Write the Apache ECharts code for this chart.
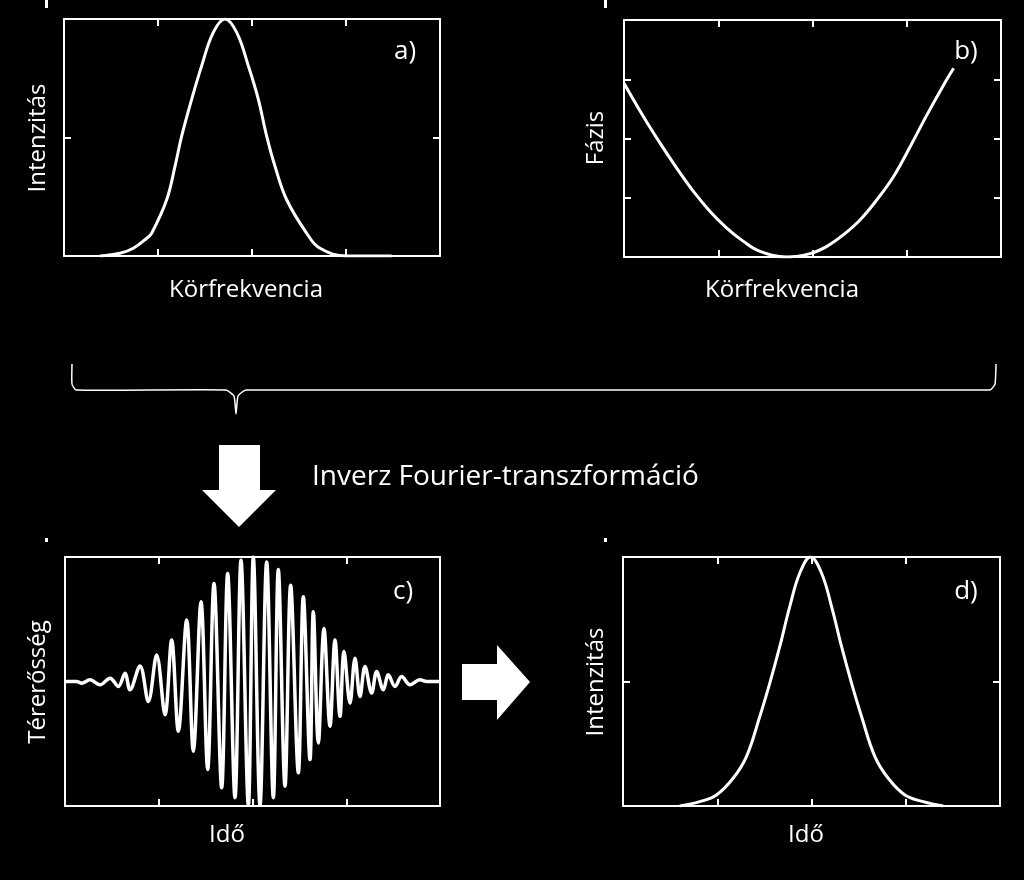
<!DOCTYPE html>
<html><head><meta charset="utf-8">
<script src="https://cdn.jsdelivr.net/npm/echarts@6/dist/echarts.min.js"></script>
<style>html,body{margin:0;background:#000}#c{width:1024px;height:880px}</style>
</head><body><div id="c"></div>
<script>
// a) spectral intensity vs angular frequency
const intensityA = [[108,0],[168,8],[208,23],[248,53],[263,68],[308,168],[333,268],[353,358],[383,468],[413,568],[448,668],[483,708],[518,668],[553,568],[583,468],[608,358],[633,268],[668,168],[728,68],[768,23],[848,0],[983,0]];
// b) spectral phase vs angular frequency
const phaseB = [[0,522],[58,422],[108,342],[158,267],[208,197],[258,137],[308,87],[358,47],[408,17],[488,0],[558,10],[608,32],[658,67],[708,112],[758,172],[808,242],[858,332],[908,427],[958,517],[988,567]];
// c) electric field vs time
const fieldC = [[0,0],[35,0],[50,-5],[75,5],[105,-10],[135,10],[160,-15],[180,25],[195,-25],[225,47],[250,-60],[275,80],[300,-100],[320,125],[340,-150],[365,185],[385,-210],[408,240],[428,-265],[447,295],[470,-320],[488,325],[510,-350],[528,365],[550,-373],[565,375],[585,-373],[605,360],[625,-350],[640,337],[660,-315],[677,290],[700,-275],[715,255],[735,-235],[745,210],[760,-185],[777,160],[795,-135],[810,125],[825,-105],[837,90],[855,-65],[870,70],[885,-45],[900,45],[920,-35],[935,30],[955,-25],[970,20],[990,-15],[1010,15],[1035,-10],[1065,5],[1085,0],[1125,0]];
// d) temporal intensity vs time
const intensityD = [[170,0],[230,13],[280,33],[330,83],[370,148],[410,268],[440,368],[470,478],[500,598],[530,698],[562,746],[595,698],[625,598],[655,478],[685,368],[715,268],[755,148],[795,83],[845,33],[900,13],[960,0]];

const panelLabels = ['a)','b)','c)','d)'];
const xNames = ['Körfrekvencia','Körfrekvencia','Idő','Idő'];
const yNames = ['Intenzitás','Fázis','Térerősség','Intenzitás'];

const grids = [
  {left:64,top:19,width:376,height:237},
  {left:624,top:20,width:377,height:237},
  {left:65,top:557,width:375,height:249},
  {left:623,top:557,width:377,height:249}
];
const xr = [[0,1128,282],[0,1130,282.5],[0,1125,281.25],[0,1130,282.5]];
const yr = [[0,708,354],[0,712,178],[-375,375,375],[0,746,373]];
const series = [intensityA, phaseB, fieldC, intensityD];

const W='#fff';
const xAxis=[], yAxis=[], ser=[];
grids.forEach((g,i)=>{
  ['bottom','top'].forEach(p=>xAxis.push({type:'value',gridIndex:i,position:p,min:xr[i][0],max:xr[i][1],interval:xr[i][2],
    axisLine:{show:true,lineStyle:{color:W,width:2}},axisTick:{show:true,inside:true,length:7,lineStyle:{color:W,width:2}},
    axisLabel:{show:false},splitLine:{show:false}}));
  ['left','right'].forEach(p=>yAxis.push({type:'value',gridIndex:i,position:p,min:yr[i][0],max:yr[i][1],interval:yr[i][2],
    axisLine:{show:true,onZero:false,lineStyle:{color:W,width:2}},axisTick:{show:true,inside:true,length:7,lineStyle:{color:W,width:2}},
    axisLabel:{show:false},splitLine:{show:false}}));
  ser.push({type:'line',xAxisIndex:2*i,yAxisIndex:2*i,data:series[i],showSymbol:false,smooth:i===2?0.35:0.4,
    lineStyle:{color:W,width:i===2?3.5:3},silent:true,z:1});
});
xAxis.forEach(a=>{a.axisLine.onZero=false;});

const font='"Open Sans", "Noto Sans", sans-serif';
const gfx=[];
const pl=[[405,52],[966,52],[403,592],[966,592]];
const xn=[[246,290],[782,290],[227,835],[806,835]];
const yn=[[38,138],[596,138],[38,682],[596,682]];
for(let i=0;i<4;i++){
  gfx.push({type:'text',x:pl[i][0],y:pl[i][1],style:{text:panelLabels[i],fill:W,font:'26px '+font,align:'center',verticalAlign:'middle'}});
  gfx.push({type:'text',x:xn[i][0],y:xn[i][1],style:{text:xNames[i],fill:W,font:'24px '+font,align:'center',verticalAlign:'middle'}});
  gfx.push({type:'text',x:yn[i][0],y:yn[i][1],rotation:Math.PI/2,style:{text:yNames[i],fill:W,font:'24px '+font,align:'center',verticalAlign:'middle'}});
}
// small marks above panels
[[45,0],[604,0],[45,538],[604,538]].forEach(p=>gfx.push({type:'rect',shape:{x:p[0],y:p[1],width:3,height:p[1]?4:8},style:{fill:W}}));
// brace
gfx.push({type:'polyline',shape:{points:[[72,364],[72,384],[76,390],[226,390],[234,396],[236,414],[238,396],[246,390],[990,390],[995,384],[996,364]],smooth:0.15},style:{stroke:W,lineWidth:1.5,fill:null}});
// down arrow
gfx.push({type:'polygon',shape:{points:[[219,445],[260,445],[260,490],[276,490],[239,527],[202,490],[219,490]]},style:{fill:W}});
// right arrow
gfx.push({type:'polygon',shape:{points:[[462,664],[497,664],[497,645],[530,682],[497,720],[497,700],[462,700]]},style:{fill:W}});
gfx.push({type:'text',x:312,y:477,style:{text:'Inverz Fourier-transzformáció',fill:W,font:'28px '+font,align:'left',verticalAlign:'middle'}});

const chart=echarts.init(document.getElementById('c'));
chart.setOption({backgroundColor:'#000',animation:false,grid:grids,xAxis,yAxis,series:ser,graphic:gfx});
</script></body></html>
